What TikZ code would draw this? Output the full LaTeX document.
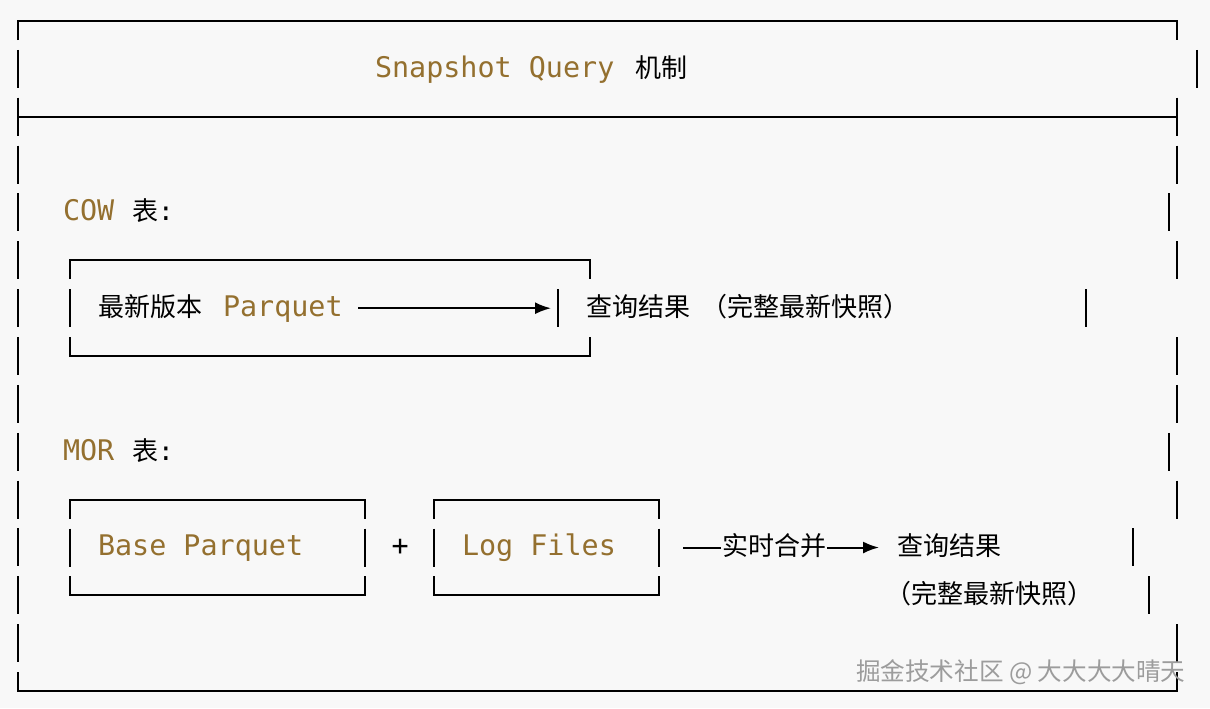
\documentclass[tikz,border=0pt]{standalone}
\usepackage{fontspec}
\usepackage{xcolor}
\usepackage{tikz}
\usetikzlibrary{arrows.meta}
\setmainfont{Noto Sans CJK SC}
\setmonofont{DejaVu Sans Mono}
\definecolor{codegold}{HTML}{94702F}
\definecolor{paper}{HTML}{F8F8F8}
\definecolor{wmgray}{HTML}{9C9C9C}

\begin{document}
\begin{tikzpicture}[x=0.5pt,y=-0.5pt,line width=1pt,
    code/.style={anchor=base west,inner sep=0pt,font=\fontsize{14.2}{16}\ttfamily,text=codegold},
    cjk/.style={anchor=base west,inner sep=0pt,font=\fontsize{13}{15}\selectfont},
    arr/.style={-{Latex[length=8pt,width=6pt]}}]
      \def\xleft{18}
      \def\xright{1177}
      \def\ytop{21}
      \def\ybot{691}
      \def\hh{19}

      \fill[paper] (0,0) rectangle (1210,708);
      \useasboundingbox (0,0) rectangle (1210,708);

      % outer frame
      \draw (\xleft,\ytop+\hh) -- (\xleft,\ytop) -- (\xright,\ytop) -- (\xright,\ytop+\hh);
      \draw (\xleft,116.7) -- (\xright,116.7);
      \draw (\xleft,\ybot-\hh) -- (\xleft,\ybot) -- (\xright,\ybot) -- (\xright,\ybot-\hh);
      \foreach \r/\xr in {1/1197,2/1177,3/1177,4/1169,5/1177,6/1086,7/1177,
                          8/1177,9/1169,10/1177,11/1133,12/1149,13/1177}
        {
        \pgfmathsetmacro\yc{\ytop+47.86*\r}
        \draw (\xleft,\yc-\hh) -- (\xleft,\yc+\hh);
        \draw (\xr,\yc-\hh) -- (\xr,\yc+\hh);
        }

      \node[code] (title) at (374,77) {Snapshot Query};
      \node[cjk] (titlecn) at (634,77) {机制};

      % COW
      \node[code] (cow) at (62,220) {COW};
      \node[cjk] (cowcn) at (131,220) {表{\ttfamily :}};

      \draw (70,279) -- (70,260.3) -- (590,260.3) -- (590,279);
      \draw (70,289) -- (70,327);
      \draw (558,289) -- (558,327);
      \draw (70,337) -- (70,356) -- (590,356) -- (590,337);

      \node[cjk] (cowsrc) at (97,316) {最新版本};
      \node[code] (cowpq) at (222,316) {Parquet};
      \coordinate (cowa) at (358,308.2);
      \coordinate (cowb) at (551,308.2);
      \draw[arr] (cowa) -- (cowb);
      \node[cjk] (cowres) at (585,316) {查询结果\hspace{6pt}（完整最新快照）};

      % MOR
      \node[code] (mor) at (62,460) {MOR};
      \node[cjk] (morcn) at (131,460) {表{\ttfamily :}};

      \draw (70,518.6) -- (70,499.6) -- (365,499.6) -- (365,518.6);
      \draw (70,528.5) -- (70,566.5);
      \draw (365,528.5) -- (365,566.5);
      \draw (70,576.3) -- (70,595.3) -- (365,595.3) -- (365,576.3);

      \draw (433.5,518.6) -- (433.5,499.6) -- (658.5,499.6) -- (658.5,518.6);
      \draw (433.5,528.5) -- (433.5,566.5);
      \draw (658.5,528.5) -- (658.5,566.5);
      \draw (433.5,576.3) -- (433.5,595.3) -- (658.5,595.3) -- (658.5,576.3);

      \node[code] (base) at (97,555.5) {Base Parquet};
      \node[code,text=black] (plus) at (390.5,555.5) {+};
      \node[code] (log) at (461,555.5) {Log Files};

      \node[cjk] (merge) at (721,555.5) {实时合并};
      \coordinate (mga) at (683,547.5);
      \coordinate (mgb) at (879,547.5);
      \draw (mga) -- (mga -| merge.west);
      \draw[arr] (mgb -| merge.east) -- (mgb);

      \node[cjk] (morres) at (896,555.5) {查询结果};
      \node[cjk] (morres2) at (884,603) {（完整最新快照）};

      \node[anchor=west,inner sep=0pt,font=\fontsize{12.3}{14}\selectfont,text=wmgray] (wm) at (855,672) {掘金技术社区 @ 大大大大晴天};
\end{tikzpicture}
\end{document}
